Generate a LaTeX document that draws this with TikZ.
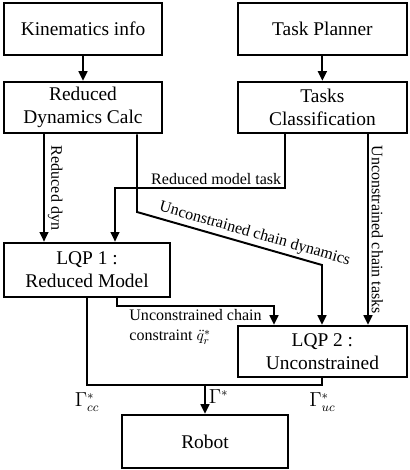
\documentclass[tikz,border=0pt]{standalone}
\usepackage{amsmath,amssymb}
\usepackage{fontspec}
\setmainfont{Liberation Serif}
\usetikzlibrary{arrows.meta}

\begin{document}
\begin{tikzpicture}[
	> = {Triangle[length=2.4mm, width=2.2mm]}, line width=1.4pt,
	box/.style = {draw, line width=1.9pt, inner sep=0pt, align=center,
		font=\rmfamily\fontsize{13.8}{16.5}\selectfont},
	lbl/.style = {font=\rmfamily\fontsize{11.4}{14.2}\selectfont, inner sep=2pt},
	gam/.style = {font=\fontsize{13.5}{16}\selectfont, inner sep=2pt},
	]
	\useasboundingbox (0,0) rectangle (10.25,-11.75);
	% blocks
	\node[box, minimum width=3.95cm, minimum height=1.3cm] (kin) at (2.075,-0.725) {Kinematics info};
	\node[box, minimum width=4.225cm, minimum height=1.3cm] (tp) at (8.06,-0.725) {Task Planner};
	\node[box, minimum width=3.95cm, minimum height=1.275cm] (rdc) at (2.075,-2.69) {Reduced\\Dynamics Calc};
	\node[box, minimum width=4.225cm, minimum height=1.275cm] (tc) at (8.06,-2.69) {Tasks\\Classification};
	\node[box, minimum width=4.15cm, minimum height=1.35cm] (lqp1) at (2.175,-6.75) {LQP 1 :\\Reduced Model};
	\node[box, minimum width=4.225cm, minimum height=1.275cm] (lqp2) at (8.06,-8.79) {LQP 2 :\\Unconstrained};
	\node[box, minimum width=4.15cm, minimum height=1.325cm] (robot) at (5.125,-11.04) {Robot};
	% bends
	\coordinate (rmt) at (2.875,-4.7);
	\coordinate (ucd) at (3.425,-5.3);
	\coordinate (ucd2) at (8.05,-6.625);
	\coordinate (ucc) at (2.925,-7.65);
	\coordinate (gam) at (5.125,-9.625);
	% top arrows
	\draw[->] (kin) -- (rdc);
	\draw[->] (tp) -- (tc);
	% into LQP 1
	\draw[->] (rdc.south -| 1.1,0) -- node[lbl, midway, above, sloped] {Reduced dyn} (lqp1.north -| 1.1,0);
	\draw[->] (tc.south -| 7.125,0) |- node[lbl, pos=0.5, above left] {Reduced model task} (rmt) -- (lqp1.north -| rmt);
	% into LQP 2
	\draw[->] (rdc.south -| ucd) -- (ucd) -- node[lbl, pos=0.62, above, sloped] {Unconstrained chain dynamics} (ucd2) -- (lqp2.north -| ucd2);
	\draw[->] (tc.south -| 9.2,0) -- node[lbl, midway, above, sloped] {Unconstrained chain tasks} (lqp2.north -| 9.2,0);
	\draw[->] (lqp1.south -| ucc) -- (ucc) -- node[lbl, midway, below, align=left] {Unconstrained chain\\ constraint $\ddot{q}_r^*$} (ucc -| 6.85,0) -- (lqp2.north -| 6.85,0);
	% torques
	\draw (lqp1.south) |- node[gam, pos=0.5, below=3pt] {$\Gamma_{cc}^*$} (gam) -| node[gam, pos=0.5, below=3pt] {$\Gamma_{uc}^*$} (lqp2.south);
	\draw[->] (gam) -- node[gam, pos=0.4, right] {$\Gamma^*$} (robot);
\end{tikzpicture}
\end{document}
